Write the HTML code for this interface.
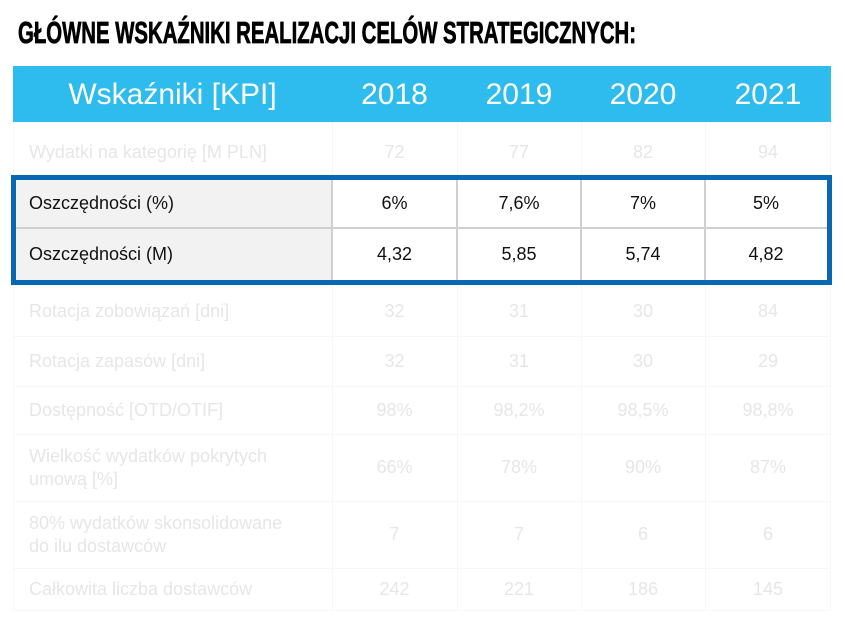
<!DOCTYPE html>
<html><head><meta charset="utf-8"><style>
body{margin:0;width:845px;height:621px;background:#fff;position:relative;overflow:hidden;font-family:"Liberation Sans",sans-serif}
.a{position:absolute}
.t{position:absolute;display:flex;align-items:center;font-size:18px;line-height:23px}
.c{justify-content:center;text-align:center}
.f{color:#e6e6e6}
.k{color:#111}
.h{color:#fff;font-size:30px}
.vl{position:absolute;width:1px;background:#f7f7f7}
.hl{position:absolute;height:1px;background:#f7f7f7}
</style></head><body>
<svg class="a" style="left:0;top:0" width="845" height="60"><text x="18" y="43" font-family="Liberation Sans" font-weight="bold" font-size="31" textLength="618" lengthAdjust="spacingAndGlyphs" fill="#000" stroke="#000" stroke-width="0.8">GŁÓWNE WSKAŹNIKI REALIZACJI CELÓW STRATEGICZNYCH:</text></svg>
<div class="a" style="left:13px;top:66px;width:818px;height:56px;background:#2ebbee"></div>
<div class="t c h" style="left:13px;top:66px;width:319px;height:56px">Wskaźniki [KPI]</div>
<div class="t c h" style="left:332px;top:66px;width:125px;height:56px">2018</div>
<div class="t c h" style="left:457px;top:66px;width:124px;height:56px">2019</div>
<div class="t c h" style="left:581px;top:66px;width:124px;height:56px">2020</div>
<div class="t c h" style="left:705px;top:66px;width:126px;height:56px">2021</div>
<div class="vl" style="left:13px;top:122px;height:488px"></div>
<div class="vl" style="left:332px;top:122px;height:488px"></div>
<div class="vl" style="left:457px;top:122px;height:488px"></div>
<div class="vl" style="left:581px;top:122px;height:488px"></div>
<div class="vl" style="left:705px;top:122px;height:488px"></div>
<div class="vl" style="left:830px;top:122px;height:488px"></div>
<div class="hl" style="left:13px;top:336px;width:818px"></div>
<div class="hl" style="left:13px;top:386px;width:818px"></div>
<div class="hl" style="left:13px;top:434px;width:818px"></div>
<div class="hl" style="left:13px;top:501px;width:818px"></div>
<div class="hl" style="left:13px;top:568px;width:818px"></div>
<div class="hl" style="left:13px;top:610px;width:818px"></div>
<div class="t f" style="left:29px;top:128px;height:48px">Wydatki na kategorię [M PLN]</div>
<div class="t c f" style="left:332px;top:128px;width:125px;height:48px">72</div>
<div class="t c f" style="left:457px;top:128px;width:124px;height:48px">77</div>
<div class="t c f" style="left:581px;top:128px;width:124px;height:48px">82</div>
<div class="t c f" style="left:705px;top:128px;width:126px;height:48px">94</div>
<div class="t f" style="left:29px;top:286px;height:50px">Rotacja zobowiązań [dni]</div>
<div class="t c f" style="left:332px;top:286px;width:125px;height:50px">32</div>
<div class="t c f" style="left:457px;top:286px;width:124px;height:50px">31</div>
<div class="t c f" style="left:581px;top:286px;width:124px;height:50px">30</div>
<div class="t c f" style="left:705px;top:286px;width:126px;height:50px">84</div>
<div class="t f" style="left:29px;top:336px;height:50px">Rotacja zapasów [dni]</div>
<div class="t c f" style="left:332px;top:336px;width:125px;height:50px">32</div>
<div class="t c f" style="left:457px;top:336px;width:124px;height:50px">31</div>
<div class="t c f" style="left:581px;top:336px;width:124px;height:50px">30</div>
<div class="t c f" style="left:705px;top:336px;width:126px;height:50px">29</div>
<div class="t f" style="left:29px;top:386px;height:48px">Dostępność [OTD/OTIF]</div>
<div class="t c f" style="left:332px;top:386px;width:125px;height:48px">98%</div>
<div class="t c f" style="left:457px;top:386px;width:124px;height:48px">98,2%</div>
<div class="t c f" style="left:581px;top:386px;width:124px;height:48px">98,5%</div>
<div class="t c f" style="left:705px;top:386px;width:126px;height:48px">98,8%</div>
<div class="t f" style="left:29px;top:434px;height:67px">Wielkość wydatków pokrytych<br>umową [%]</div>
<div class="t c f" style="left:332px;top:434px;width:125px;height:67px">66%</div>
<div class="t c f" style="left:457px;top:434px;width:124px;height:67px">78%</div>
<div class="t c f" style="left:581px;top:434px;width:124px;height:67px">90%</div>
<div class="t c f" style="left:705px;top:434px;width:126px;height:67px">87%</div>
<div class="t f" style="left:29px;top:501px;height:67px">80% wydatków skonsolidowane<br>do ilu dostawców</div>
<div class="t c f" style="left:332px;top:501px;width:125px;height:67px">7</div>
<div class="t c f" style="left:457px;top:501px;width:124px;height:67px">7</div>
<div class="t c f" style="left:581px;top:501px;width:124px;height:67px">6</div>
<div class="t c f" style="left:705px;top:501px;width:126px;height:67px">6</div>
<div class="t f" style="left:29px;top:568px;height:42px">Całkowita liczba dostawców</div>
<div class="t c f" style="left:332px;top:568px;width:125px;height:42px">242</div>
<div class="t c f" style="left:457px;top:568px;width:124px;height:42px">221</div>
<div class="t c f" style="left:581px;top:568px;width:124px;height:42px">186</div>
<div class="t c f" style="left:705px;top:568px;width:126px;height:42px">145</div>
<div class="a" style="left:11px;top:175px;width:811px;height:100px;border:5px solid #0a67b2;background:#fff"></div>
<div class="a" style="left:16px;top:180px;width:316px;height:100px;background:#f2f2f2"></div>
<div class="a" style="left:16px;top:227px;width:811px;height:2px;background:#cfcfcf"></div>
<div class="a" style="left:331px;top:180px;width:2px;height:100px;background:#cfcfcf"></div>
<div class="a" style="left:456px;top:180px;width:2px;height:100px;background:#cfcfcf"></div>
<div class="a" style="left:580px;top:180px;width:2px;height:100px;background:#cfcfcf"></div>
<div class="a" style="left:704px;top:180px;width:2px;height:100px;background:#cfcfcf"></div>
<div class="t k" style="left:29px;top:180px;height:47px">Oszczędności (%)</div>
<div class="t c k" style="left:332px;top:180px;width:125px;height:47px">6%</div>
<div class="t c k" style="left:457px;top:180px;width:124px;height:47px">7,6%</div>
<div class="t c k" style="left:581px;top:180px;width:124px;height:47px">7%</div>
<div class="t c k" style="left:705px;top:180px;width:122px;height:47px">5%</div>
<div class="t k" style="left:29px;top:229px;height:51px">Oszczędności (M)</div>
<div class="t c k" style="left:332px;top:229px;width:125px;height:51px">4,32</div>
<div class="t c k" style="left:457px;top:229px;width:124px;height:51px">5,85</div>
<div class="t c k" style="left:581px;top:229px;width:124px;height:51px">5,74</div>
<div class="t c k" style="left:705px;top:229px;width:122px;height:51px">4,82</div>
</body></html>
